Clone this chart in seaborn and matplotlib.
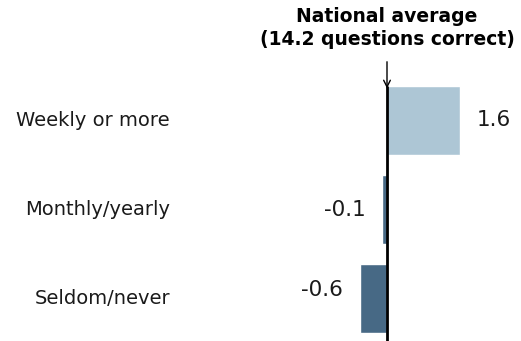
import matplotlib
matplotlib.use("Agg")
import matplotlib.pyplot as plt
import seaborn as sns
import pandas as pd

categories = ["Weekly or more", "Monthly/yearly", "Seldom/never"]
values = [1.6, -0.1, -0.6]
value_labels = ["1.6", "-0.1", "-0.6"]
bar_colors = ["#adc6d5", "#476985", "#476985"]
title = "National average\n(14.2 questions correct)"

sns.set_theme(style="white")
plt.rcParams["font.family"] = ["DejaVu Sans"]

df = pd.DataFrame({"category": categories, "value": values})

fig = plt.figure(figsize=(5.21, 3.41), dpi=100)
ax = fig.add_axes([0, 0, 1, 1])

sns.barplot(data=df, x="value", y="category", hue="category",
            palette=bar_colors, orient="h", width=0.775,
            legend=False, ax=ax, saturation=1)

# pixel-aligned scale: zero at x=387, 45.6 px per unit
px_per_unit = 45.6
ax.set_xlim(-387 / px_per_unit, (521 - 387) / px_per_unit)
ax.set_ylim((341 - 120.5) / 89, -120.5 / 89)
ax.set_axis_off()

# category labels on the left
for i, cat in enumerate(categories):
    ax.text(170 / 521, i, cat, transform=ax.get_yaxis_transform(),
            ha="right", va="center", fontsize=14, color="#1a1a1a")

# value labels beside each bar; the bottom one sits slightly raised
for i, (v, lab) in enumerate(zip(values, value_labels)):
    y = i - (0.1 if i == len(values) - 1 else 0)
    if v >= 0:
        ax.text(v + 17 / px_per_unit, y, lab, ha="left", va="center",
                fontsize=15.5, color="#1a1a1a")
    else:
        ax.text(v - 17 / px_per_unit, y, lab, ha="right", va="center",
                fontsize=15.5, color="#1a1a1a")

# zero reference line with arrow from the heading
ax.plot([0, 0], [-0.39, 2.6], color="black", lw=2, solid_capstyle="butt",
        zorder=5)
ax.annotate("", xy=(0, -0.36), xytext=(0, -0.66),
            arrowprops=dict(arrowstyle="->", color="black", lw=1,
                            shrinkA=0, shrinkB=0))

fig.text(387 / 521, 1 - 7 / 341, title, ha="center", va="top",
         fontsize=13.5, fontweight="bold", linespacing=1.25, color="black")

fig.savefig("out.png", dpi=100)
